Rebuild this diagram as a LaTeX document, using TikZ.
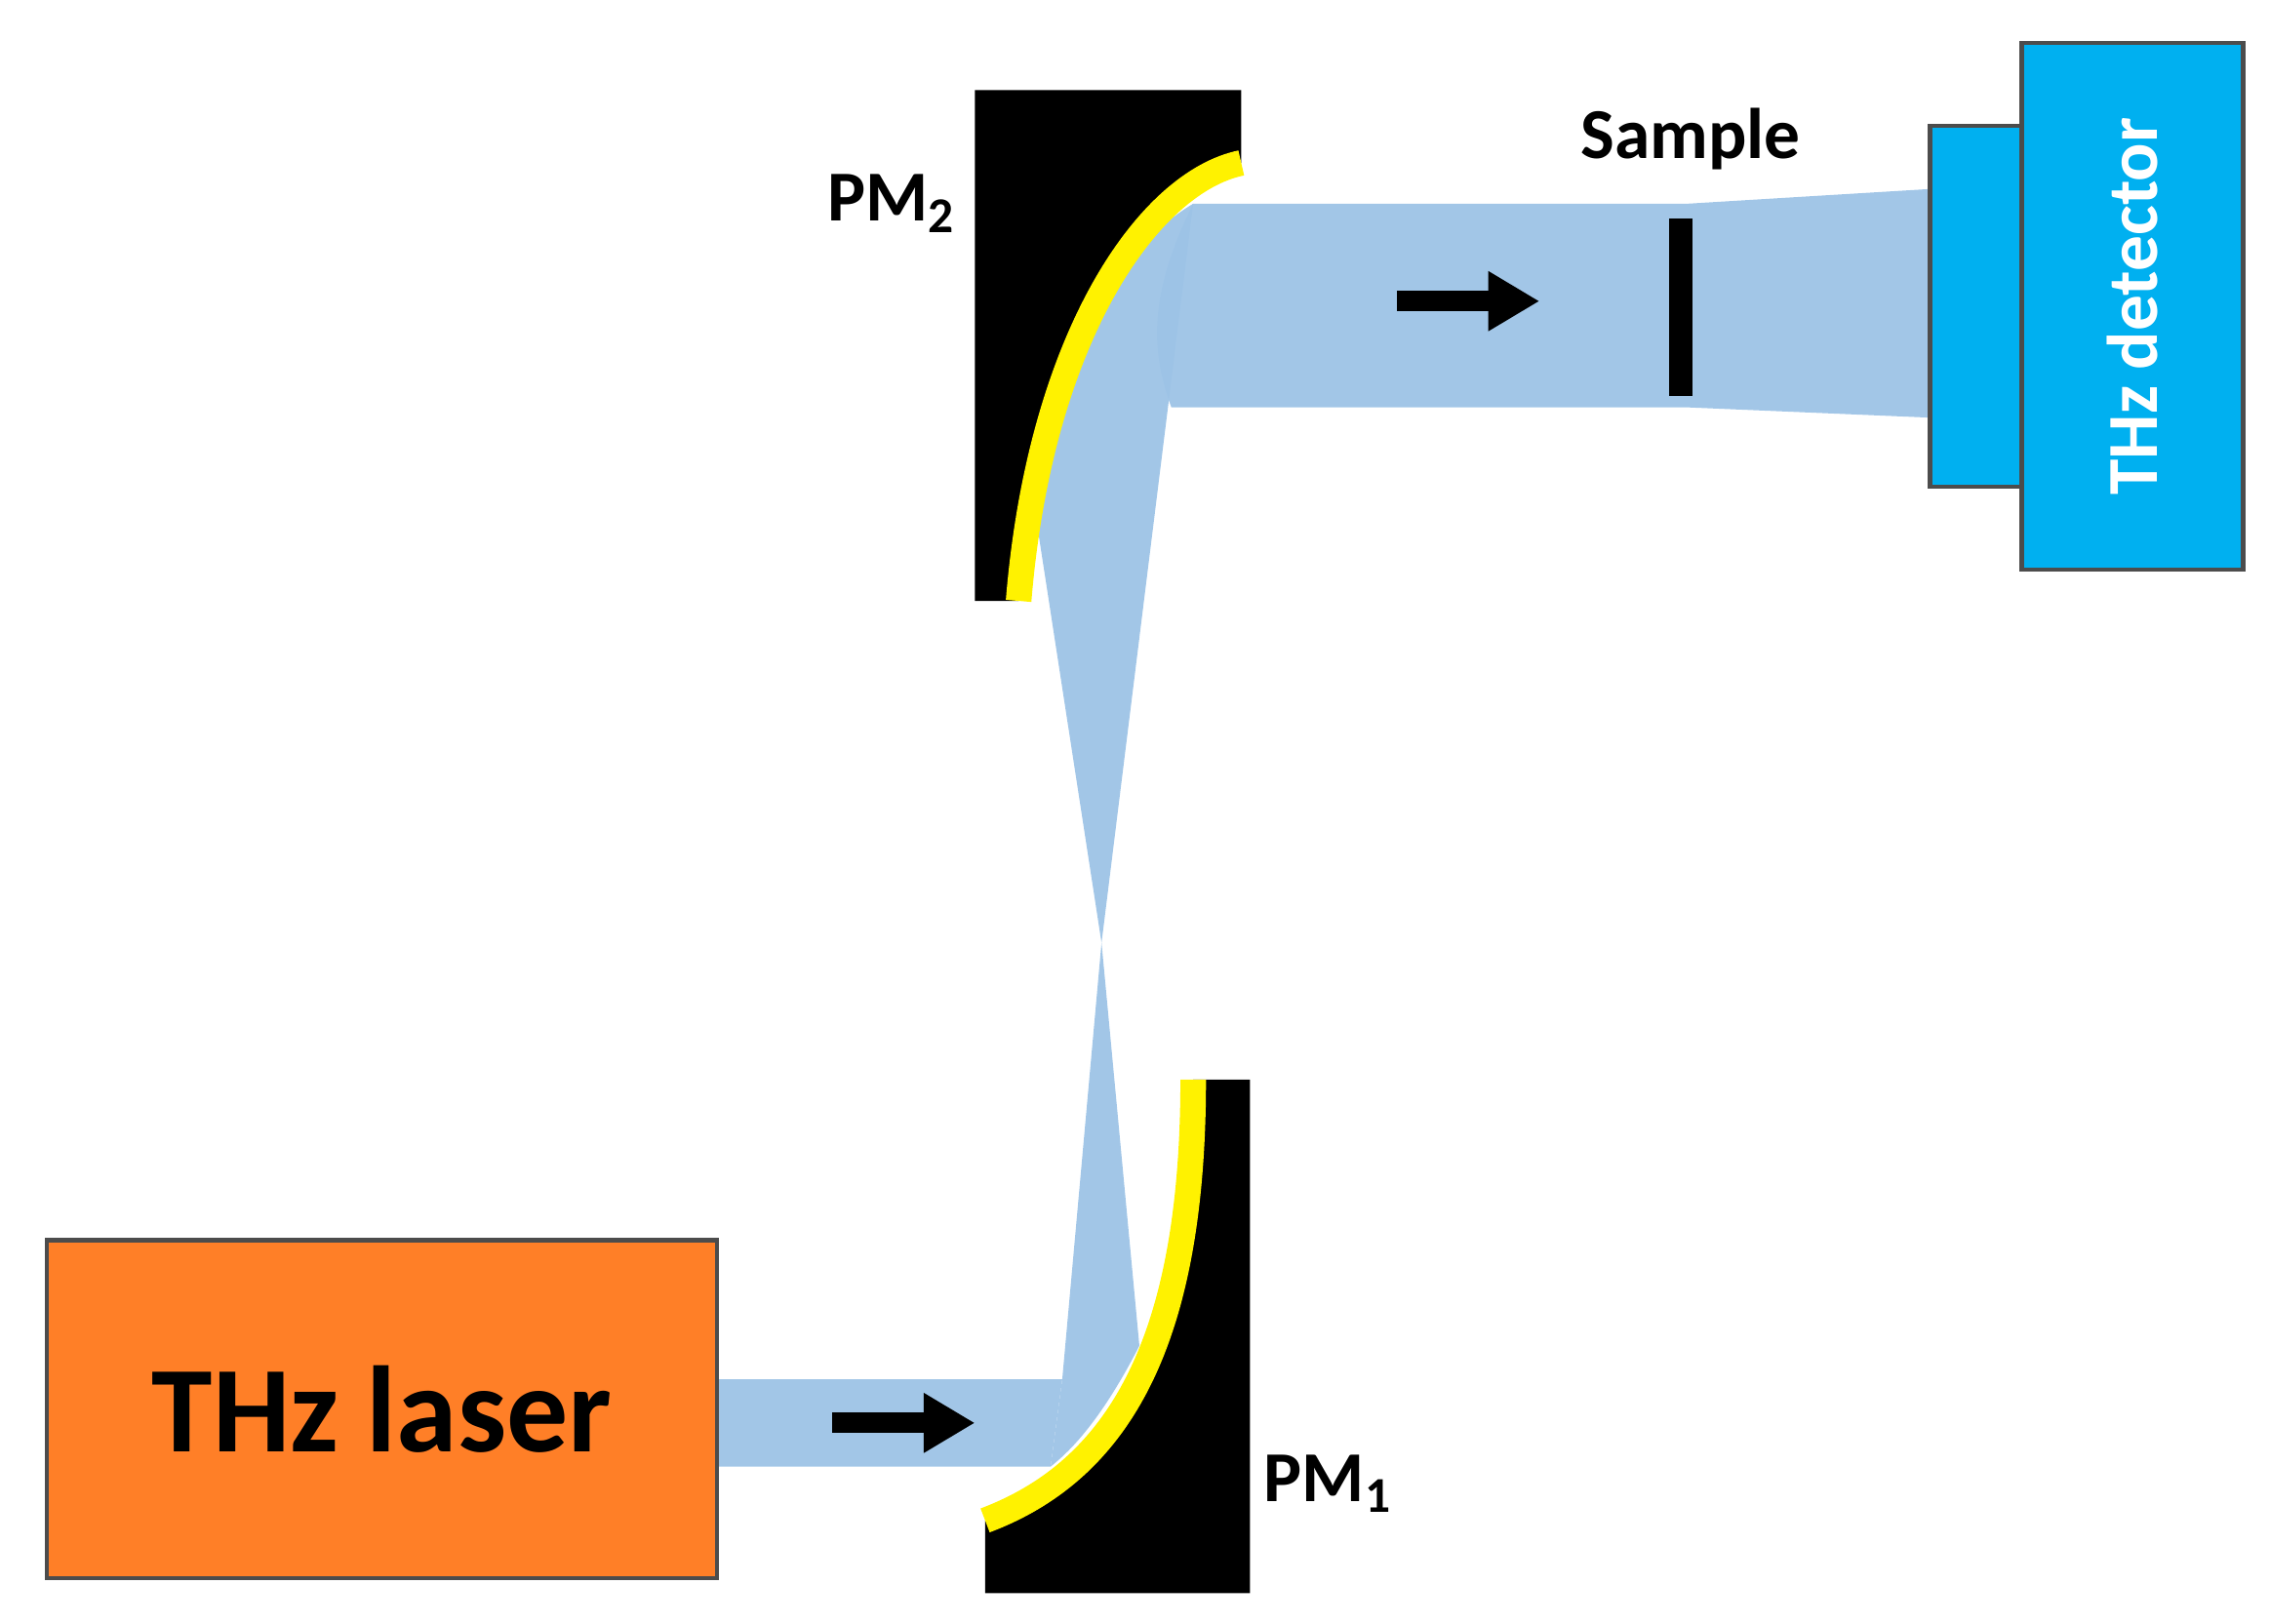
\documentclass[tikz,border=0pt]{standalone}
\usepackage{fontspec}
\setmainfont{Carlito}
\usetikzlibrary{positioning,arrows.meta}
\definecolor{laserorange}{HTML}{FF7F27}
\definecolor{detblue}{HTML}{00B0F0}
\definecolor{beamblue}{HTML}{9DC3E6}
\tikzset{
  box/.style={draw=black!70, line width=0.8pt, inner sep=0pt, anchor=north west},
  beam/.style={fill=beamblue, draw=none, opacity=0.95},
  coating/.style={yellow, line width=5pt},
  dirarrow/.style={-{Triangle[length=10pt,width=11pt]}, line width=4pt},
  lbl/.style={font=\bfseries\fontsize{14}{16}\selectfont}
}
\begin{document}
\begin{tikzpicture}[x=0.01cm, y=-0.01cm]
\useasboundingbox (0,0) rectangle (1560,1116);

% mirrors
\fill (820,742) -- (859,742) -- (859,1095) -- (677,1095) -- (677,1045)
  .. controls (770,1010) and (820,920) .. (820,742) -- cycle;
\fill (670,62) -- (853,62) -- (853,112) .. controls (790,125) and (715,230) .. (700,413)
  -- (670,413) -- cycle;

% beam path
\fill[beam] (491,948) -- (730,948) -- (722,1008) -- (491,1008) -- cycle;
\fill[beam] (730,948) -- (757,648) -- (783,925) .. controls (765,960) and (745,990) .. (722,1008) -- cycle;
\fill[beam] (757,648) -- (708,330) .. controls (725,240) and (770,170) .. (820,140) -- cycle;
\fill[beam] (820,140) -- (1160,140) -- (1325,130) -- (1325,287) -- (1160,280) -- (805,280)
  .. controls (790,240) and (790,200) .. (820,140) -- cycle;

% mirror coatings
\draw[coating] (820,742) .. controls (820,920) and (770,1010) .. (677,1045);
\draw[coating] (853,112) .. controls (790,125) and (715,230) .. (700,413);

% components
\node[box, fill=laserorange, minimum width=4.6cm, minimum height=2.32cm] (laser) at (31,851) {};
\node[font=\bfseries\fontsize{24}{28}\selectfont] at (laser.center) {THz laser};
\node[box, fill=detblue, minimum width=0.63cm, minimum height=2.48cm] (dethead) at (1325,85) {};
\node[box, fill=detblue, minimum width=1.52cm, minimum height=3.62cm] (detector) at (1388,28) {};
\node[rotate=90, text=white, lbl] at (detector.center) {THz detector};
\fill (1147,150) rectangle (1163,272);
\coordinate (sample) at (1162,150);

% labels
\node[lbl] (pmtwo) at (613,140) {PM\textsubscript{2}};
\node[lbl] (pmone) at (913,1020) {PM\textsubscript{1}};
\node[lbl, above=6pt of sample] {Sample};

% direction arrows
\coordinate (a1) at (572,978); \coordinate (a2) at (670,978);
\coordinate (b1) at (960,207); \coordinate (b2) at (1058,207);
\draw[dirarrow] (a1) -- (a2);
\draw[dirarrow] (b1) -- (b2);
\end{tikzpicture}
\end{document}
